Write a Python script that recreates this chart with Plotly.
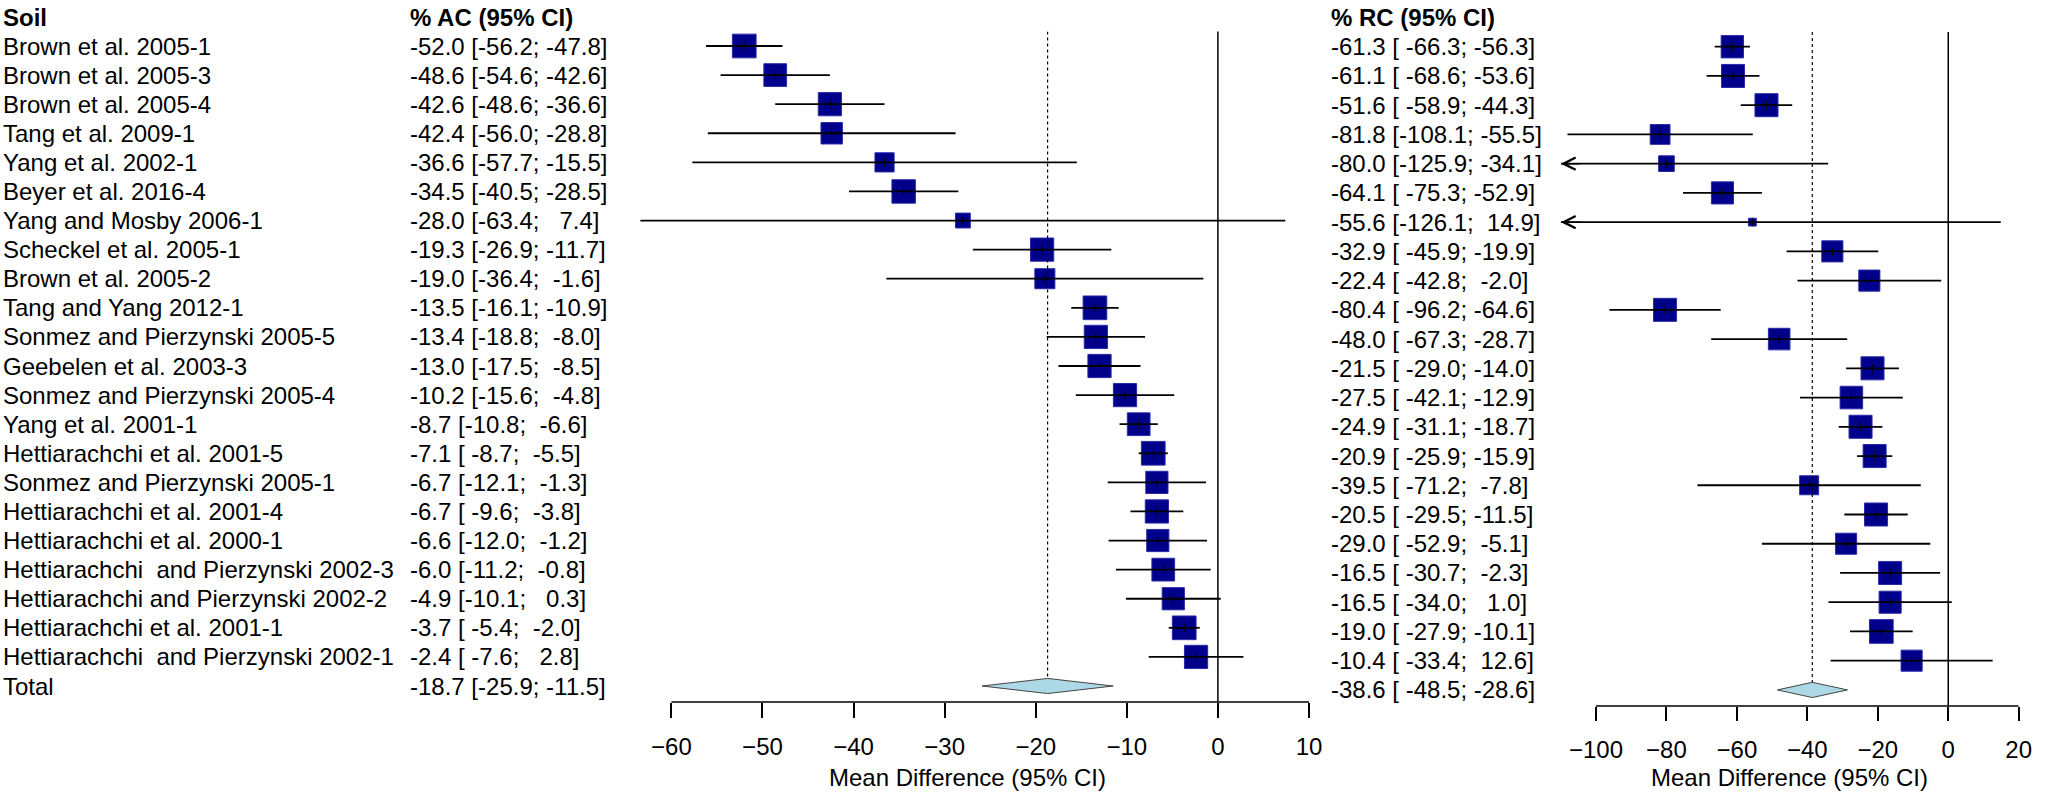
import plotly.graph_objects as go

# ---------------- data ----------------
studies = [
    "Brown et al. 2005-1", "Brown et al. 2005-3", "Brown et al. 2005-4",
    "Tang et al. 2009-1", "Yang et al. 2002-1", "Beyer et al. 2016-4",
    "Yang and Mosby 2006-1", "Scheckel et al. 2005-1", "Brown et al. 2005-2",
    "Tang and Yang 2012-1", "Sonmez and Pierzynski 2005-5", "Geebelen et al. 2003-3",
    "Sonmez and Pierzynski 2005-4", "Yang et al. 2001-1", "Hettiarachchi et al. 2001-5",
    "Sonmez and Pierzynski 2005-1", "Hettiarachchi et al. 2001-4", "Hettiarachchi et al. 2000-1",
    "Hettiarachchi  and Pierzynski 2002-3", "Hettiarachchi and Pierzynski 2002-2",
    "Hettiarachchi et al. 2001-1", "Hettiarachchi  and Pierzynski 2002-1",
]
total_label = "Total"

ac_mean = [-52.0, -48.6, -42.6, -42.4, -36.6, -34.5, -28.0, -19.3, -19.0, -13.5, -13.4,
           -13.0, -10.2, -8.7, -7.1, -6.7, -6.7, -6.6, -6.0, -4.9, -3.7, -2.4]
ac_lower = [-56.2, -54.6, -48.6, -56.0, -57.7, -40.5, -63.4, -26.9, -36.4, -16.1, -18.8,
            -17.5, -15.6, -10.8, -8.7, -12.1, -9.6, -12.0, -11.2, -10.1, -5.4, -7.6]
ac_upper = [-47.8, -42.6, -36.6, -28.8, -15.5, -28.5, 7.4, -11.7, -1.6, -10.9, -8.0,
            -8.5, -4.8, -6.6, -5.5, -1.3, -3.8, -1.2, -0.8, 0.3, -2.0, 2.8]
ac_weight = [5.1, 4.7, 4.9, 4.2, 3.4, 5.0, 2.1, 4.9, 3.7, 5.1, 4.9,
             4.9, 4.9, 4.7, 5.1, 4.5, 4.9, 4.5, 4.7, 4.5, 5.1, 4.9]
ac_total = [-18.7, -25.9, -11.5]

rc_mean = [-61.3, -61.1, -51.6, -81.8, -80.0, -64.1, -55.6, -32.9, -22.4, -80.4, -48.0,
           -21.5, -27.5, -24.9, -20.9, -39.5, -20.5, -29.0, -16.5, -16.5, -19.0, -10.4]
rc_lower = [-66.3, -68.6, -58.9, -108.1, -125.9, -75.3, -126.1, -45.9, -42.8, -96.2, -67.3,
            -29.0, -42.1, -31.1, -25.9, -71.2, -29.5, -52.9, -30.7, -34.0, -27.9, -33.4]
rc_upper = [-56.3, -53.6, -44.3, -55.5, -34.1, -52.9, 14.9, -19.9, -2.0, -64.6, -28.7,
            -14.0, -12.9, -18.7, -15.9, -7.8, -11.5, -5.1, -2.3, 1.0, -10.1, 12.6]
rc_weight = [4.9, 5.2, 5.2, 3.9, 2.5, 4.8, 0.7, 4.4, 4.4, 5.2, 4.6,
             5.2, 5.0, 5.2, 5.2, 3.6, 5.2, 4.4, 5.2, 4.8, 5.5, 4.4]
rc_total = [-38.6, -48.5, -28.6]

ac_ticks = [-60, -50, -40, -30, -20, -10, 0, 10]
rc_ticks = [-100, -80, -60, -40, -20, 0, 20]

header_soil = "Soil"
header_ac = "% AC (95% CI)"
header_rc = "% RC (95% CI)"
xlab = "Mean Difference (95% CI)"

# ---------------- layout geometry ----------------
W, H = 2048, 798
FONT = "Liberation Sans, Arial, sans-serif"
FS = 24
NBSP = "\u00a0"

def px(xp):
    return xp / W

def py(yp):
    return 1 - yp / H

ac_xlim = [-65, 10]
rc_xlim = [-110, 20]
n = len(studies)
row_top, row_bot = -0.5, 22.55

fig = go.Figure()

def fmt_ac(m, lo, hi):
    return (f"{m:.1f} [{lo:5.1f}; {hi:5.1f}]").replace(" ", NBSP)

def fmt_rc(m, lo, hi):
    return (f"{m:.1f} [{lo:6.1f}; {hi:5.1f}]").replace(" ", NBSP)

def add_panel(means, lows, ups, weights, total, xlim, xa, ya, maxbox):
    rows = list(range(len(means)))
    wmax = max(weights)
    sizes = [maxbox * (w / wmax) ** 0.5 - 1 for w in weights]
    # squares
    fig.add_trace(go.Scatter(
        x=means, y=rows, mode="markers", xaxis=xa, yaxis=ya,
        marker=dict(symbol="square", size=sizes, color="#00008B", opacity=1,
                    line=dict(color="#2a2aa8", width=1)),
        hoverinfo="skip", showlegend=False))
    # CI lines
    lx, ly = [], []
    for r, lo, hi in zip(rows, lows, ups):
        lx += [max(lo, xlim[0]), min(hi, xlim[1]), None]
        ly += [r, r, None]
    fig.add_trace(go.Scatter(
        x=lx, y=ly, mode="lines", xaxis=xa, yaxis=ya,
        line=dict(color="black", width=1.8),
        hoverinfo="skip", showlegend=False))
    # small tick inside square
    fig.add_trace(go.Scatter(
        x=means, y=rows, mode="markers", xaxis=xa, yaxis=ya,
        marker=dict(symbol="line-ns", size=6, opacity=1,
                    line=dict(color="black", width=1)),
        hoverinfo="skip", showlegend=False))
    # arrows for clipped intervals
    for r, lo in zip(rows, lows):
        if lo < xlim[0]:
            fig.add_annotation(x=xlim[0], y=r, ax=xlim[0] + 6, ay=r,
                               xref=xa, yref=ya, axref=xa, ayref=ya,
                               text="", showarrow=True, arrowhead=5,
                               arrowsize=1.6, arrowwidth=1.5, arrowcolor="black")
    # diamond for total
    tm, tlo, thi = total
    tr = len(means)
    h = 0.26
    fig.add_trace(go.Scatter(
        x=[tlo, tm, thi, tm, tlo], y=[tr, tr - h, tr, tr + h, tr],
        mode="lines", fill="toself", fillcolor="#ADD8E6",
        line=dict(color="#444444", width=1), xaxis=xa, yaxis=ya,
        hoverinfo="skip", showlegend=False))
    # reference lines
    fig.add_shape(type="line", xref=xa, yref=ya + " domain", x0=0, x1=0, y0=0, y1=1,
                  line=dict(color="black", width=1.5))
    fig.add_shape(type="line", xref=xa, yref=ya, x0=tm, x1=tm, y0=row_top, y1=tr - h,
                  line=dict(color="black", width=1.2, dash="dot"))


add_panel(ac_mean, ac_lower, ac_upper, ac_weight, ac_total, ac_xlim, "x", "y", 24.7)
add_panel(rc_mean, rc_lower, rc_upper, rc_weight, rc_total, rc_xlim, "x2", "y2", 24.7)

# axis lines spanning the tick range
fig.add_shape(type="line", xref="x", yref="y domain", x0=ac_ticks[0], x1=ac_ticks[-1],
              y0=0, y1=0, line=dict(color="black", width=1.5))
fig.add_shape(type="line", xref="x2", yref="y2 domain", x0=rc_ticks[0], x1=rc_ticks[-1],
              y0=0, y1=0, line=dict(color="black", width=1.5))

# text columns
def add_text(x_paper, y, text, yref, bold=False):
    fig.add_annotation(x=x_paper, y=y, xref="paper", yref=yref, text=text,
                       showarrow=False, xanchor="left", yanchor="middle",
                       font=dict(family=FONT, size=FS, color="black",
                                 weight="bold" if bold else "normal"),
                       borderpad=0, borderwidth=0)

X_NAME, X_AC, X_RC = px(3), px(413), px(1339)
Y_HEAD = py(18)
add_text(X_NAME, Y_HEAD, header_soil, "paper", bold=True)
add_text(X_AC, Y_HEAD, header_ac, "paper", bold=True)
add_text(X_RC, Y_HEAD, header_rc, "paper", bold=True)
for i, s in enumerate(studies):
    add_text(X_NAME, i, s, "y")
    add_text(X_AC, i, fmt_ac(ac_mean[i], ac_lower[i], ac_upper[i]), "y")
    add_text(X_RC, i, fmt_rc(rc_mean[i], rc_lower[i], rc_upper[i]), "y2")
add_text(X_NAME, n, total_label, "y")
add_text(X_AC, n, fmt_ac(*ac_total), "y")
add_text(X_RC, n, fmt_rc(*rc_total), "y2")

# x-axis titles
for xa, xlim in (("x", ac_xlim), ("x2", rc_xlim)):
    fig.add_annotation(x=(xlim[0] + xlim[1]) / 2, y=py(777), xref=xa, yref="paper",
                       text=xlab, showarrow=False, xanchor="center", yanchor="middle",
                       font=dict(family=FONT, size=FS, color="black"))

axis_common = dict(showgrid=False, zeroline=False, showline=False, ticks="outside",
                   tickcolor="black", tickwidth=1.5, fixedrange=True,
                   ticklabelstandoff=8,
                   tickfont=dict(family=FONT, size=FS, color="black"))

fig.update_layout(
    width=W, height=H, margin=dict(l=0, r=0, t=0, b=0),
    paper_bgcolor="white", plot_bgcolor="white", showlegend=False,
    font=dict(family=FONT, size=FS, color="black"),
    xaxis=dict(domain=[px(1225.7 + 9.167 * ac_xlim[0]), px(1225.7 + 9.167 * ac_xlim[1])],
               range=ac_xlim, tickvals=ac_ticks, ticklen=15, anchor="y", **axis_common),
    yaxis=dict(domain=[py(702.0), py(31.45)], range=[row_bot, row_top], visible=False,
               fixedrange=True),
    xaxis2=dict(domain=[px(1960.7 + 3.545 * rc_xlim[0]), px(1960.7 + 3.545 * rc_xlim[1])],
                range=rc_xlim, tickvals=rc_ticks, ticklen=14, anchor="y2", **axis_common),
    yaxis2=dict(domain=[py(706.0), py(32.1)], range=[row_bot, row_top], visible=False,
                fixedrange=True, anchor="x2"),
)

fig.write_html("out.html", config={"displayModeBar": False},
               post_script="document.body.style.margin='0';")
